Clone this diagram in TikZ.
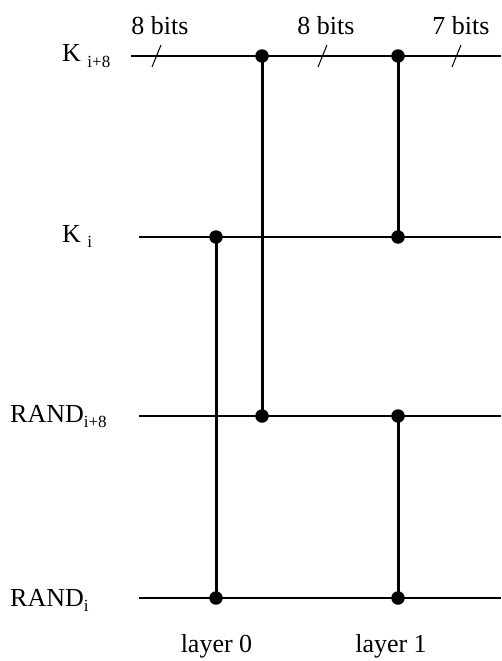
\documentclass[tikz,border=0pt]{standalone}
\usepackage{fontspec}
\setmainfont{Liberation Serif}
\usetikzlibrary{positioning}

\newcommand\lowidx[1]{\raisebox{-0.2em}{\fontsize{17}{18}\selectfont #1}}

\begin{document}
\begin{tikzpicture}[
    x=1pt, y=-1pt,
    wire/.style={line width=1.3pt, draw=black},
    link/.style={line width=3pt, draw=black},
    dot/.style={circle, fill=black, inner sep=0pt, minimum size=13.5pt},
    tick/.style={line width=1pt, draw=black},
    lbl/.style={font=\fontsize{26}{31}\selectfont, inner sep=0pt}
]
\useasboundingbox (0,0) rectangle (501,661);

%% Wire ends
\coordinate (k8w)  at (131, 56);  \coordinate (k8e)  at (501, 56);
\coordinate (kw)   at (139,237);  \coordinate (ke)   at (501,237);
\coordinate (r8w)  at (139,416);  \coordinate (r8e)  at (501,416);
\coordinate (rw)   at (139,598);  \coordinate (re)   at (501,598);

%% Wires
\draw[wire] (k8w) -- (k8e);
\draw[wire] (kw)  -- (ke);
\draw[wire] (r8w) -- (r8e);
\draw[wire] (rw)  -- (re);

%% Wire labels
\node[lbl, anchor=base west] (k8lbl) at (62, 62)  {K \lowidx{i+8}};
\node[lbl, anchor=base west] (klbl)  at (62,242)  {K \lowidx{i}};
\node[lbl, anchor=base west] (r8lbl) at (10,422)  {RAND\lowidx{i+8}};
\node[lbl, anchor=base west] (rlbl)  at (10,606)  {RAND\lowidx{i}};

%% Bit widths
\draw[tick] (152,67) -- (161,45);
\draw[tick] (318,67) -- (327,45);
\draw[tick] (452,67) -- (461,45);
\node[lbl, anchor=base] (b1) at (160,35) {8 bits};
\node[lbl, anchor=base] (b2) at (326,35) {8 bits};
\node[lbl, anchor=base] (b3) at (461,35) {7 bits};

%% Layer 0
\node[dot] (d1) at (216,237) {};
\node[dot] (d2) at (216,598) {};
\node[dot] (d3) at (262, 56) {};
\node[dot] (d4) at (262,416) {};
\draw[link] (d1.center) -- (d2.center);
\draw[link] (d3.center) -- (d4.center);

%% Layer 1
\node[dot] (d5) at (398, 56) {};
\node[dot] (d6) at (398,237) {};
\node[dot] (d7) at (398,416) {};
\node[dot] (d8) at (398,598) {};
\draw[link] (d5.center) -- (d6.center);
\draw[link] (d7.center) -- (d8.center);

%% Layer names
\node[lbl, anchor=base] (l0) at (216.5,652) {layer 0};
\node[lbl, anchor=base] (l1) at (391,652)   {layer 1};

\end{tikzpicture}
\end{document}
